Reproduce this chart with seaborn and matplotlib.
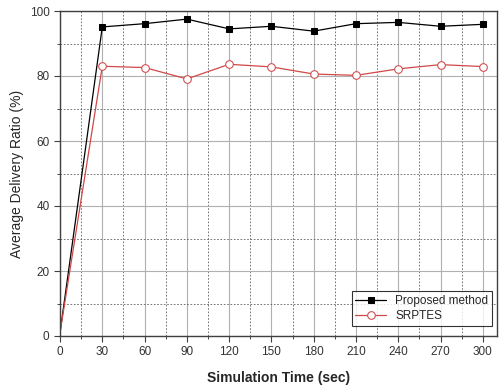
import matplotlib
matplotlib.use("Agg")
import matplotlib.pyplot as plt
import seaborn as sns
import pandas as pd
from matplotlib.ticker import MultipleLocator

time = [0, 30, 60, 90, 120, 150, 180, 210, 240, 270, 300]
proposed = [1, 95.1, 96.1, 97.5, 94.5, 95.3, 93.8, 96.1, 96.5, 95.3, 95.9]
srptes = [1, 83.0, 82.6, 79.1, 83.6, 82.8, 80.6, 80.2, 82.2, 83.5, 82.9]
series_names = ["Proposed method", "SRPTES"]

sns.set_style("white")
plt.rcParams['font.family'] = ['Liberation Sans', 'DejaVu Sans']

df = pd.DataFrame({
    "time": time * 2,
    "value": proposed + srptes,
    "series": [series_names[0]] * len(time) + [series_names[1]] * len(time),
})

fig = plt.figure(figsize=(4.99, 3.89), dpi=100)
ax = fig.add_axes([60/499, 1-336/389, 437/499, 325/389])

sns.lineplot(data=df[df.series == series_names[0]], x="time", y="value", ax=ax,
             color="black", marker="s", markersize=5, markerfacecolor="black",
             markeredgecolor="black", linewidth=0.9, label=series_names[0],
             markevery=slice(1, None))
sns.lineplot(data=df[df.series == series_names[1]], x="time", y="value", ax=ax,
             color="#d04848", marker="o", markersize=5.5, markerfacecolor="white",
             markeredgecolor="#d04848", linewidth=0.9, label=series_names[1],
             markevery=slice(1, None))

ax.set_xlim(0, 310)
ax.set_ylim(0, 100)
ax.xaxis.set_major_locator(MultipleLocator(30))
ax.xaxis.set_minor_locator(MultipleLocator(15))
ax.yaxis.set_major_locator(MultipleLocator(20))
ax.yaxis.set_minor_locator(MultipleLocator(10))
ax.grid(which="major", color="#b0b0b0", linestyle="-", linewidth=0.8)
ax.grid(which="minor", color="#606060", linestyle=(0, (2, 2)), linewidth=0.6)
ax.set_axisbelow(True)
for s in ax.spines.values():
    s.set_color("#404040")
    s.set_linewidth(1.0)
ax.tick_params(which="major", direction="out", length=4, width=0.8, labelsize=8.5,
               colors="#404040", labelcolor="#333333", bottom=True, left=True)
ax.tick_params(which="minor", direction="out", length=2.5, width=0.6, bottom=True, left=True)
ax.set_xlabel("Simulation Time (sec)", fontsize=10, fontweight="bold", labelpad=9)
ax.set_ylabel("Average Delivery Ratio (%)", fontsize=10, labelpad=4)

leg = ax.legend(loc="lower right", bbox_to_anchor=(1 - 5/437, 10/325),
                fontsize=8.5, frameon=True, fancybox=False,
                edgecolor="black", borderpad=0.3, labelspacing=0.3,
                handlelength=2.6, borderaxespad=0.0)
leg.get_frame().set_linewidth(0.8)

fig.savefig("out.png", dpi=100)
